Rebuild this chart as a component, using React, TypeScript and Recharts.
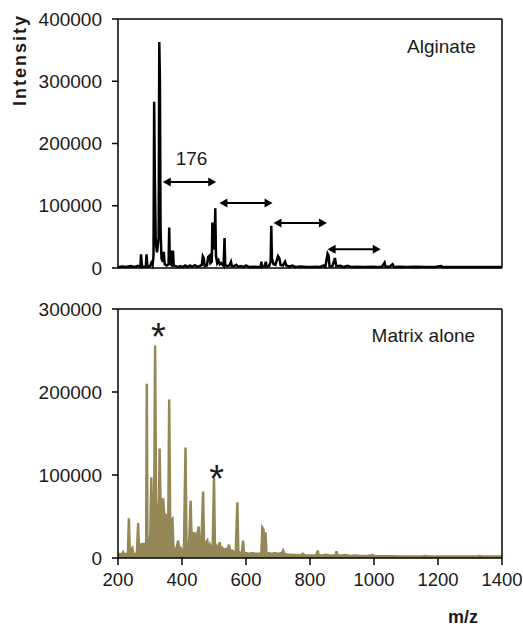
import React from 'react';
import { LineChart, Line, AreaChart, Area, XAxis, YAxis, ReferenceLine, ReferenceDot } from 'recharts';

const FONT = '"Liberation Sans", Arial, sans-serif';

// m/z axis
const mzTicks = [200, 400, 600, 800, 1000, 1200, 1400];
const alginateTicks = [0, 100000, 200000, 300000, 400000];
const matrixTicks = [0, 100000, 200000, 300000];

// Alginate spectrum (m/z, intensity)
const alginateMz = [
  200, 215, 225, 240, 250, 262, 270, 272, 275, 287, 289, 292, 300, 304, 308, 311, 313, 315, 318, 322,
  327, 329, 331, 333, 336, 340, 343, 346, 352, 358, 360, 362, 367, 369, 372, 374, 380, 388, 395, 402,
  410, 418, 425, 432, 440, 448, 455, 462, 465, 468, 471, 478, 482, 486, 489, 493, 495, 497, 502, 504,
  506, 510, 514, 518, 522, 530, 533, 535, 540, 548, 553, 556, 562, 570, 575, 585, 592, 600, 610, 625,
  640, 646, 648, 650, 658, 662, 664, 672, 677, 679, 681, 686, 692, 700, 704, 708, 715, 722, 726, 735,
  745, 755, 770, 790, 805, 820, 830, 843, 848, 855, 858, 861, 870, 878, 882, 895, 905, 918, 930, 945,
  970, 995, 1010, 1025, 1033, 1036, 1050, 1058, 1062, 1080, 1100, 1130, 1160, 1190, 1210, 1214, 1240, 1270, 1300, 1340,
  1370, 1400,
];
const alginateIntensity = [
  1500, 2500, 1500, 3000, 1500, 3500, 2000, 22000, 2000, 2000, 22000, 2000, 3000, 8000, 4000, 20000, 267000, 150000, 40000, 25000,
  50000, 363000, 300000, 60000, 15000, 10000, 26000, 6000, 4000, 6000, 65000, 8000, 5000, 26000, 26000, 4000, 3000, 1500, 3000, 1500,
  4000, 2000, 4000, 2000, 4500, 2000, 3000, 5000, 19000, 16000, 3000, 4000, 18000, 20000, 8000, 10000, 73000, 30000, 40000, 96000,
  20000, 8000, 12000, 6000, 8000, 3000, 48000, 5000, 3000, 4000, 10000, 3000, 3000, 5000, 2000, 3000, 1500, 4000, 1500, 2000,
  1500, 2000, 10000, 2000, 3000, 10000, 2000, 3000, 10000, 68000, 15000, 6000, 5000, 19000, 16000, 5000, 4000, 10000, 4000, 2000,
  4000, 1500, 2500, 1500, 1500, 2000, 1500, 4000, 2000, 23000, 20000, 3000, 3000, 16000, 3000, 3500, 1500, 3500, 1500, 2000,
  1500, 2000, 1500, 2000, 8500, 2000, 2500, 6000, 1500, 2000, 1500, 2000, 1500, 1500, 3000, 1500, 1500, 1500, 1500, 1500,
  1500, 1500,
];

// Matrix alone spectrum (m/z, intensity)
const matrixMz = [
  200, 206, 212, 216, 220, 226, 231, 234, 237, 241, 245, 248, 254, 259, 263, 266, 270, 276, 282, 286,
  288, 290, 292, 297, 301, 304, 307, 310, 313, 316, 319, 322, 325, 328, 330, 333, 337, 341, 344, 348,
  351, 354, 357, 360, 363, 366, 370, 373, 377, 382, 388, 391, 396, 401, 406, 411, 414, 418, 422, 427,
  430, 434, 437, 440, 443, 447, 452, 455, 460, 466, 469, 474, 479, 482, 487, 492, 496, 500, 503, 508,
  512, 518, 521, 526, 531, 536, 542, 547, 550, 556, 562, 568, 573, 576, 582, 587, 591, 594, 600, 610,
  620, 630, 640, 648, 651, 655, 658, 661, 664, 672, 680, 690, 700, 712, 716, 720, 730, 740, 750, 760,
  770, 778, 785, 795, 810, 820, 824, 827, 838, 850, 860, 870, 880, 883, 886, 900, 910, 925, 940, 960,
  980, 995, 1005, 1030, 1060, 1090, 1120, 1150, 1160, 1170, 1200, 1240, 1280, 1320, 1330, 1340, 1370, 1400,
];
const matrixIntensity = [
  3000, 5000, 4000, 7000, 4000, 5000, 4000, 48000, 5000, 10000, 12000, 4000, 5000, 6000, 42000, 6000, 16000, 17000, 17000, 12000,
  12000, 210000, 8000, 10000, 30000, 97000, 50000, 70000, 60000, 256000, 70000, 55000, 65000, 60000, 132000, 65000, 60000, 72000, 55000, 50000,
  51000, 45000, 40000, 191000, 40000, 45000, 47000, 15000, 8000, 10000, 21000, 10000, 12000, 9000, 10000, 133000, 14000, 20000, 14000, 69000,
  20000, 28000, 25000, 31000, 20000, 25000, 38000, 15000, 12000, 80000, 14000, 18000, 21000, 10000, 16000, 10000, 14000, 96500, 10000, 14000,
  9000, 19000, 8000, 12000, 9000, 11000, 10000, 16000, 8000, 9000, 7000, 8000, 67000, 8000, 6000, 6000, 21000, 5000, 6000, 5000,
  6000, 5000, 5000, 5000, 36500, 34000, 5000, 31000, 5000, 6000, 5000, 6000, 5000, 6000, 9000, 5000, 4000, 4000, 3500, 3500,
  3000, 5000, 3000, 3000, 3000, 3000, 9000, 3000, 3000, 4000, 3000, 3000, 3000, 8000, 3000, 3000, 3500, 2500, 3000, 2500,
  2500, 3500, 2000, 2000, 2000, 1800, 1800, 1800, 2500, 1800, 1800, 1800, 1800, 1800, 2500, 1800, 1800, 1800,
];

// Annotations
const arrowStart = [340, 517, 686, 855];
const arrowEnd = [507, 683, 853, 1021];
const arrowLevel = [138300, 104500, 72400, 30000];
const spacingLabel = { text: '176', mz: 430, y: 165600 };
const alginateTitle = { text: 'Alginate', mz: 1318, y: 345700 };
const matrixTitle = { text: 'Matrix alone', mz: 1316, y: 260600 };
const starMz = [326, 508];
const starY = [250600, 79500];

const alginateData = alginateMz.map((mz, i) => ({ mz, intensity: alginateIntensity[i] }));
const matrixData = matrixMz.map((mz, i) => ({ mz, intensity: matrixIntensity[i] }));

const MATRIX_COLOR = '#948858';
const TEXT_COLOR = '#1a1a1a';

const ArrowShape = (props: any) => {
  const { x1, y1, x2, y2 } = props;
  const h = 8;
  const w = 4.5;
  const left = Math.min(x1, x2);
  const right = Math.max(x1, x2);
  const y = (y1 + y2) / 2;
  return (
    <g>
      <line x1={left + h - 1} y1={y} x2={right - h + 1} y2={y} stroke="#000" strokeWidth={2} />
      <polygon points={`${left},${y} ${left + h},${y - w} ${left + h},${y + w}`} fill="#000" />
      <polygon points={`${right},${y} ${right - h},${y - w} ${right - h},${y + w}`} fill="#000" />
    </g>
  );
};

const makeText = (text: string, anchor: string, size: number, weight: string | number = 'normal') => (props: any) => (
  <text
    x={props.cx}
    y={props.cy}
    textAnchor={anchor}
    fontFamily={FONT}
    fontSize={size}
    fontWeight={weight}
    fill={TEXT_COLOR}
  >
    {text}
  </text>
);

const yTickStyle = { fill: TEXT_COLOR, fontSize: 19, fontFamily: FONT };
const xTickStyle = { fill: TEXT_COLOR, fontSize: 18.5, fontFamily: FONT };

export default function App() {
  return (
    <div style={{ position: 'absolute', left: 0, top: 0, width: 523, height: 629, background: '#fff' }}>
      <div style={{ position: 'absolute', left: 0, top: 0 }}>
        <LineChart width={523} height={290} data={alginateData} margin={{ top: 19, right: 21, left: 0, bottom: 0 }}>
          <XAxis
            dataKey="mz"
            type="number"
            domain={[200, 1400]}
            ticks={mzTicks}
            tick={false}
            tickSize={7}
            height={22}
            axisLine={{ stroke: '#000', strokeWidth: 1.5 }}
            tickLine={{ stroke: '#000', strokeWidth: 1.5 }}
            allowDataOverflow
          />
          <YAxis
            type="number"
            domain={[0, 400000]}
            ticks={alginateTicks}
            width={118}
            tickSize={6}
            tickMargin={10}
            tick={yTickStyle}
            axisLine={{ stroke: '#000', strokeWidth: 1.5 }}
            tickLine={{ stroke: '#000', strokeWidth: 1.5 }}
            label={{
              content: () => (
                <text
                  x={26}
                  y={60}
                  transform="rotate(-90, 26, 60)"
                  textAnchor="middle"
                  fontFamily={FONT}
                  fontSize={18}
                  fontWeight="bold"
                  letterSpacing={2}
                  fill={TEXT_COLOR}
                >
                  Intensity
                </text>
              ),
            }}
          />
          <ReferenceLine y={400000} stroke="#000" strokeWidth={1.5} />
          <ReferenceLine x={1400} stroke="#000" strokeWidth={1.5} />
          <Line
            dataKey="intensity"
            type="linear"
            stroke="#000"
            strokeWidth={2.5}
            dot={false}
            isAnimationActive={false}
          />
          {arrowStart.map((s, i) => (
            <ReferenceLine
              key={`arrow-${i}`}
              segment={[
                { x: s, y: arrowLevel[i] },
                { x: arrowEnd[i], y: arrowLevel[i] },
              ]}
              shape={ArrowShape}
            />
          ))}
          <ReferenceDot x={spacingLabel.mz} y={spacingLabel.y} shape={makeText(spacingLabel.text, 'middle', 19)} />
          <ReferenceDot x={alginateTitle.mz} y={alginateTitle.y} shape={makeText(alginateTitle.text, 'end', 19)} />
        </LineChart>
      </div>
      <div style={{ position: 'absolute', left: 0, top: 290 }}>
        <AreaChart width={523} height={339} data={matrixData} margin={{ top: 19, right: 21, left: 0, bottom: 0 }}>
          <XAxis
            dataKey="mz"
            type="number"
            domain={[200, 1400]}
            ticks={mzTicks}
            tick={xTickStyle}
            tickSize={7}
            tickMargin={8}
            height={71}
            axisLine={{ stroke: '#000', strokeWidth: 1.5 }}
            tickLine={{ stroke: '#000', strokeWidth: 1.5 }}
            allowDataOverflow
            label={{
              content: () => (
                <text x={463} y={333} textAnchor="middle" fontFamily={FONT} fontSize={18} fontWeight="bold" fill={TEXT_COLOR}>
                  m/z
                </text>
              ),
            }}
          />
          <YAxis
            type="number"
            domain={[0, 300000]}
            ticks={matrixTicks}
            width={118}
            tickSize={6}
            tickMargin={10}
            tick={yTickStyle}
            axisLine={{ stroke: '#000', strokeWidth: 1.5 }}
            tickLine={{ stroke: '#000', strokeWidth: 1.5 }}
          />
          <ReferenceLine y={300000} stroke="#000" strokeWidth={1.5} />
          <ReferenceLine x={1400} stroke="#000" strokeWidth={1.5} />
          <Area
            dataKey="intensity"
            type="linear"
            stroke={MATRIX_COLOR}
            strokeWidth={2.5}
            fill={MATRIX_COLOR}
            fillOpacity={1}
            baseValue={0}
            dot={false}
            isAnimationActive={false}
          />
          {starMz.map((m, i) => (
            <ReferenceDot key={`star-${i}`} x={m} y={starY[i]} shape={makeText('*', 'middle', 38)} />
          ))}
          <ReferenceDot x={matrixTitle.mz} y={matrixTitle.y} shape={makeText(matrixTitle.text, 'end', 19)} />
        </AreaChart>
      </div>
    </div>
  );
}
